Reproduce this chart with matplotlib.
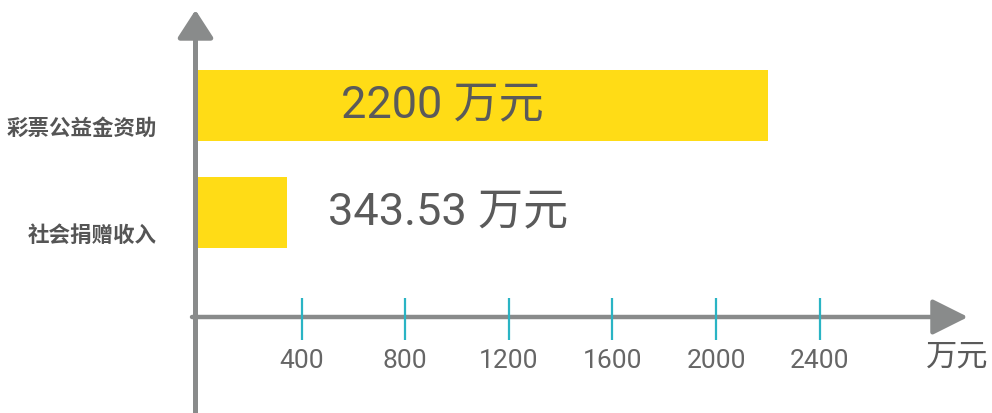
import matplotlib.pyplot as plt

# data
categories = ['彩票公益金资助', '社会捐赠收入']
values = [2200, 343.53]
value_labels = ['2200 万元', '343.53 万元']
xticks = [400, 800, 1200, 1600, 2000, 2400]
unit = '万元'

YELLOW = '#ffdc16'
AXIS = '#898b8b'
TEAL = '#2ab4c4'
TEXT = '#5a5a5a'

W, H = 992, 413
PX_PER_UNIT = 0.259     # pixels per 万元
X0 = 198                # pixel column of value 0
ROW = 107               # pixel distance between bars
Y0 = 212.5              # pixel row of the lower bar centre


def dx(px):
    return (px - X0) / PX_PER_UNIT


def dy(py):
    return (Y0 - py) / ROW


fig = plt.figure(figsize=(W / 100, H / 100), dpi=100)
ax = fig.add_axes([0, 0, 1, 1])
ax.set_xlim(dx(0), dx(W))
ax.set_ylim(dy(H), dy(0))
ax.set_axis_off()

pos = list(range(len(categories)))[::-1]   # first category on top

# bars
ax.barh(pos, values, height=71 / ROW, left=0, color=YELLOW, zorder=2)

# y axis with arrow
ax.annotate('', xy=(dx(195.5), dy(10)), xytext=(dx(195.5), dy(H)),
            arrowprops=dict(arrowstyle='-|>,head_length=17,head_width=11',
                            mutation_scale=1, lw=3.6, color=AXIS,
                            shrinkA=0, shrinkB=0), zorder=1)
# x axis with arrow
ax.annotate('', xy=(dx(968), dy(317)), xytext=(dx(192), dy(317)),
            arrowprops=dict(arrowstyle='-|>,head_length=22,head_width=11',
                            mutation_scale=1, lw=3.2, color=AXIS,
                            shrinkA=0, shrinkB=0), zorder=1)

# ticks and tick labels
ax.vlines(xticks, dy(340), dy(298), color=TEAL, lw=1.6, zorder=3)
for t in xticks:
    ax.text(t, dy(361), str(t), ha='center', va='center', fontsize=19,
            color='#666666', family=['Roboto', 'DejaVu Sans'])
ax.text(dx(957), dy(357), unit, ha='center', va='center', fontsize=22.5,
        color=TEXT, family=['Noto Sans CJK SC'])

# category labels
for p, c in zip(pos, categories):
    ax.text(dx(157), p - 0.21, c, ha='right', va='center', fontsize=15.5,
            fontweight='bold', color='#555555', family=['Noto Sans CJK SC'])

# value labels
label_x = [dx(341), dx(328)]
for p, lx, s in zip(pos, label_x, value_labels):
    ax.text(lx, p - 0.01, s, ha='left', va='center', fontsize=32.5,
            color=TEXT, family=['Roboto', 'Noto Sans CJK SC'], zorder=4)

fig.savefig('out.png', dpi=100)
